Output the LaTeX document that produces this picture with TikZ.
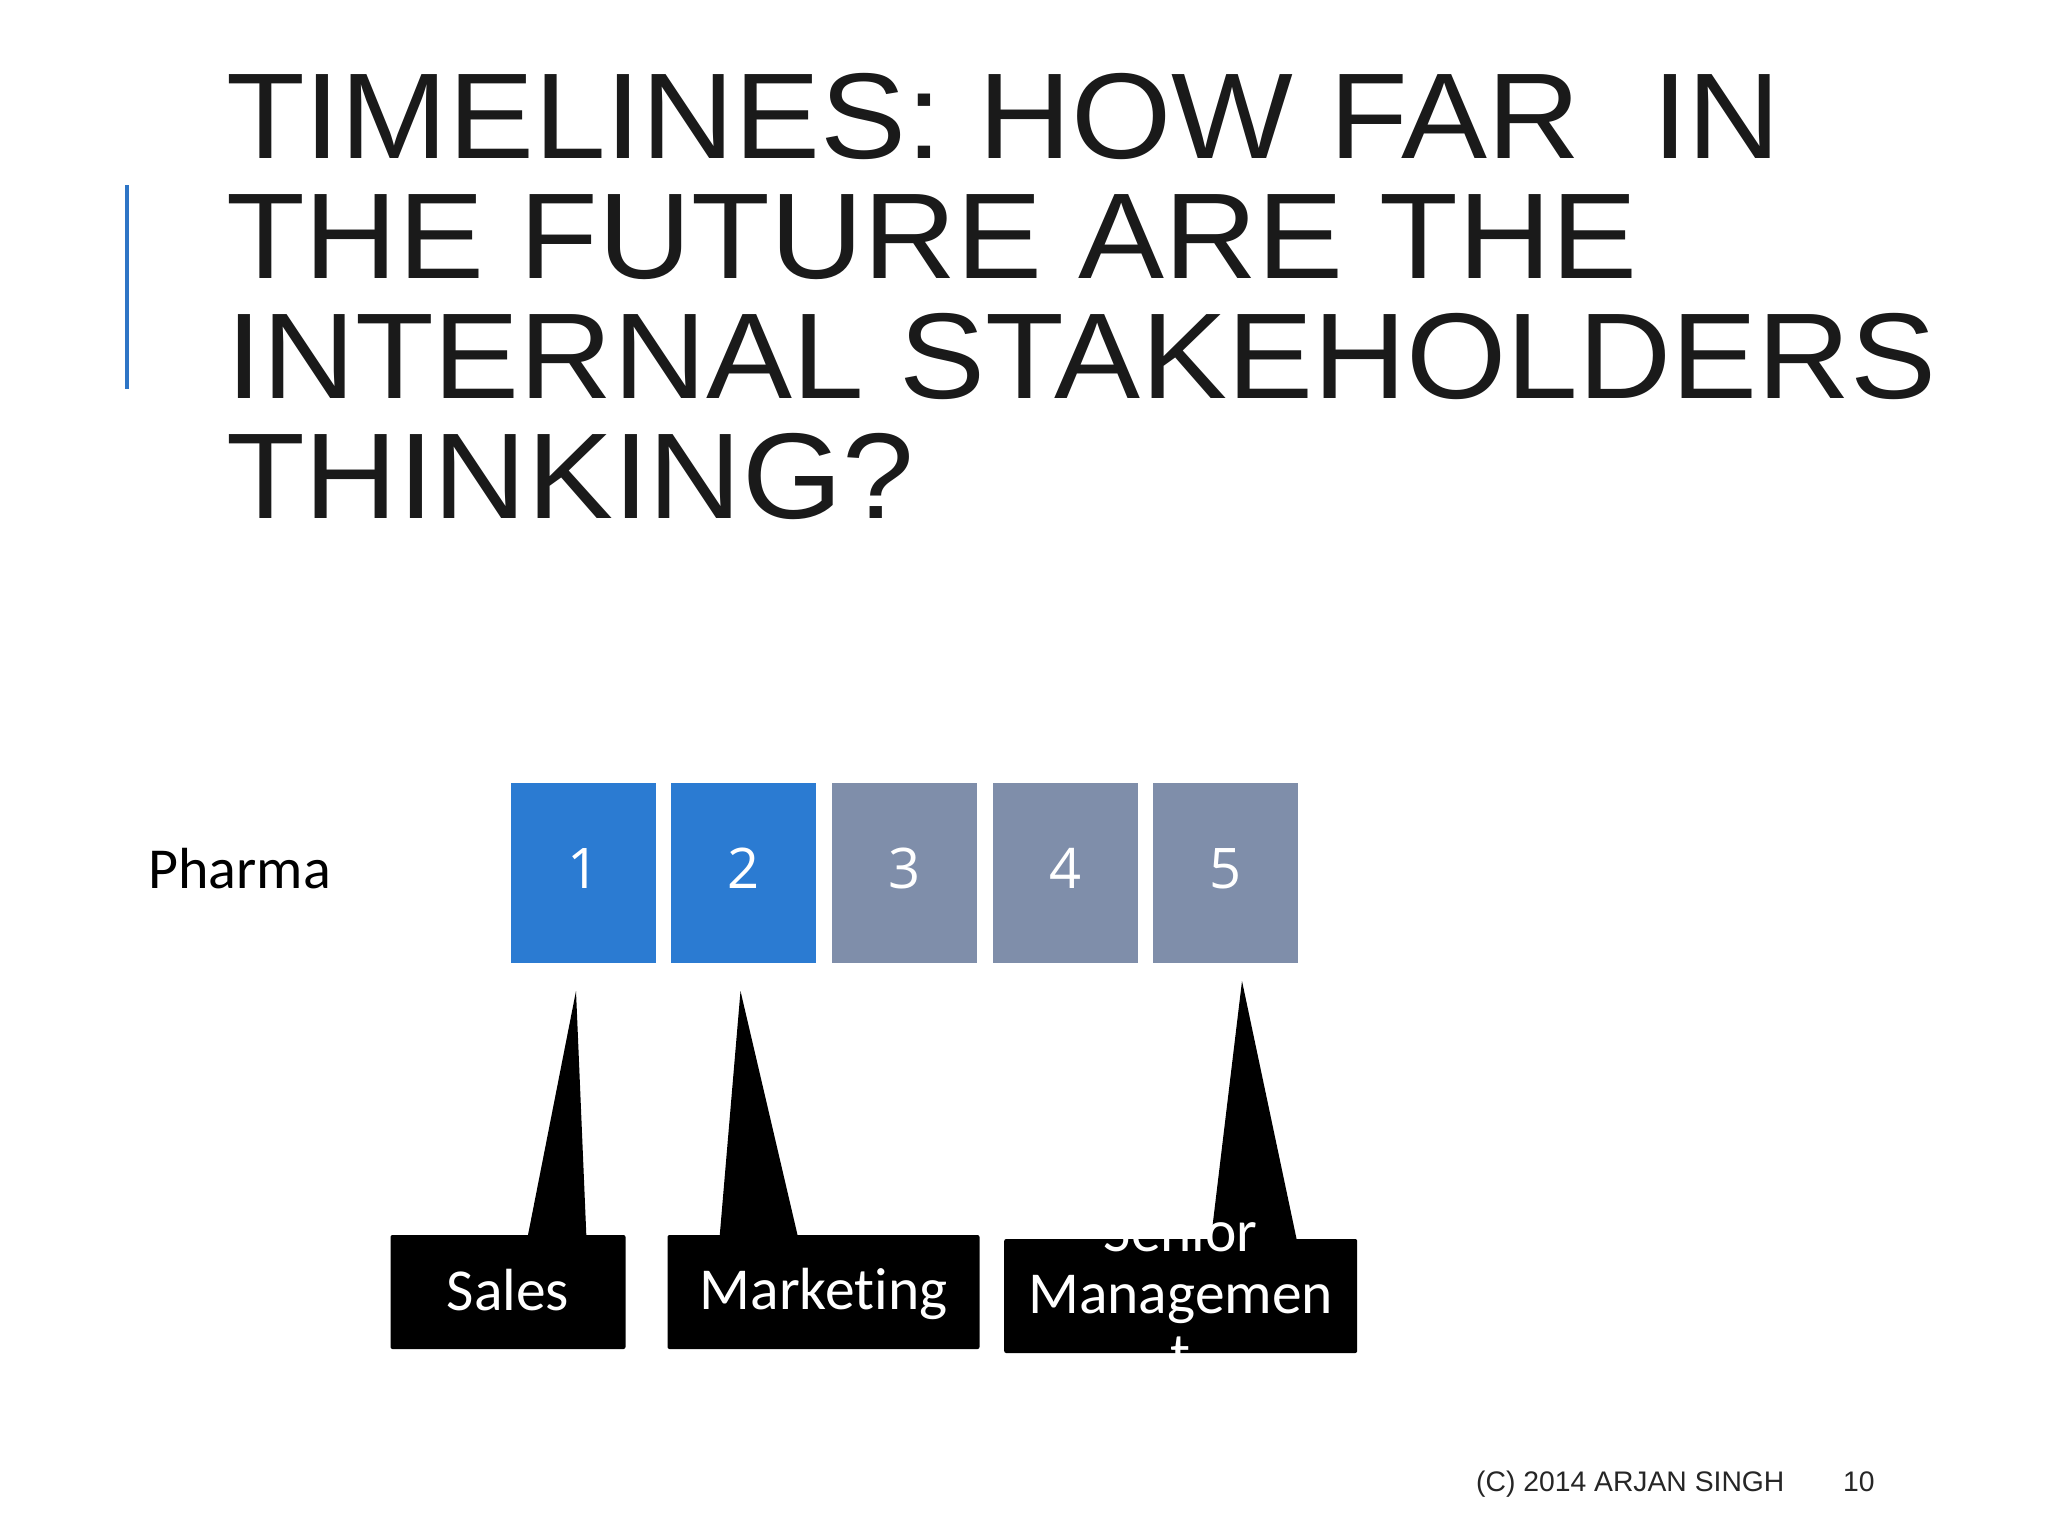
\documentclass[tikz,border=0pt]{standalone}
\usepackage{fontspec}
\setmainfont{Liberation Sans}
\newfontfamily\titlefont[FakeStretch=1.057]{Liberation Sans}
\newfontfamily\calfont[Ligatures=NoCommon]{Carlito}
\newfontfamily\digfont{Open Sans}
\definecolor{titleblack}{HTML}{1A1A1A}
\definecolor{accentblue}{HTML}{2E75C6}
\definecolor{boxblue}{HTML}{2B7BD2}
\definecolor{boxgray}{HTML}{7F8EAA}
\definecolor{footgray}{HTML}{262626}
\tikzset{
  titleline/.style={anchor=base west, inner sep=0pt, text=titleblack, font=\titlefont\fontsize{122}{120}\selectfont},
  scalebox/.style={rectangle, inner sep=0pt, minimum width=145pt, minimum height=180pt},
  bluebox/.style={scalebox, fill=boxblue},
  graybox/.style={scalebox, fill=boxgray},
  digit/.style={anchor=base, inner sep=0pt, text=white, font=\digfont\fontsize{56}{60}\selectfont},
  callbox/.style={rectangle, fill=black, rounded corners=2pt, inner sep=0pt, minimum height=114pt},
  calltext/.style={anchor=base, inner sep=0pt, text=white, font=\calfont\fontsize{59.5}{61}\selectfont},
  footer/.style={anchor=base west, inner sep=0pt, text=footgray, font=\fontsize{28.3}{34}\selectfont}
}
\begin{document}
\begin{tikzpicture}[x=1pt,y=-1pt]
\useasboundingbox[fill=white] (0,0) rectangle (2048,1536);
% title
\node[titleline] (t1) at (226,159) {TIMELINES: HOW FAR\ \ IN};
\node[titleline] (t2) at (226,278) {THE FUTURE ARE THE};
\node[titleline] (t3) at (226,398) {INTERNAL STAKEHOLDERS};
\node[titleline] (t4) at (226,518) {THINKING?};
\draw[accentblue, line width=4pt] (127,185) -- (127,389);
% row label
\node[anchor=base west, inner sep=0pt, font=\calfont\fontsize{58}{60}\selectfont] (pharma) at (148,888) {Pharma};
% boxes
\node[bluebox] (b1) at (583.2,872.5) {};
\node[bluebox] (b2) at (743.8,872.5) {};
\node[graybox] (b3) at (904.4,872.5) {};
\node[graybox] (b4) at (1065,872.5) {};
\node[graybox] (b5) at (1225.6,872.5) {};
\node[digit] (d1) at (583.2,888) {1};
\node[digit] (d2) at (743.8,888) {2};
\node[digit] (d3) at (904.4,888) {3};
\node[digit] (d4) at (1065,888) {4};
\node[digit] (d5) at (1225.6,888) {5};
% callouts
\node[callbox, minimum width=235pt] (sales) at (508,1292) {};
\node[callbox, minimum width=312pt] (mkt) at (823.5,1292) {};
\node[callbox, minimum width=353pt] (senior) at (1180.7,1296) {};
\coordinate (tip1) at (576,991);
\coordinate (tip2) at (740.5,991);
\coordinate (tip3) at (1242,981);
\fill[black] (527.6,1237) -- (tip1) -- (586.4,1237) -- cycle;
\fill[black] (719.6,1237) -- (tip2) -- (798,1237) -- cycle;
\fill[black] (1210.7,1241) -- (tip3) -- (1297,1241) -- cycle;
\node[calltext] (lsales) at (508,1310) {Sales};
\node[calltext] (lmkt) at (823.5,1309) {Marketing};
\node[calltext] (lsen1) at (1180.7,1251) {Senior};
\node[calltext] (lsen2) at (1180.7,1313) {Managemen};
\node[calltext] (lsen3) at (1180.7,1374) {t};
% footer
\node[footer] (copy) at (1476,1491) {(C) 2014 ARJAN SINGH};
\node[footer] (page) at (1843,1491) {10};
\end{tikzpicture}
\end{document}
